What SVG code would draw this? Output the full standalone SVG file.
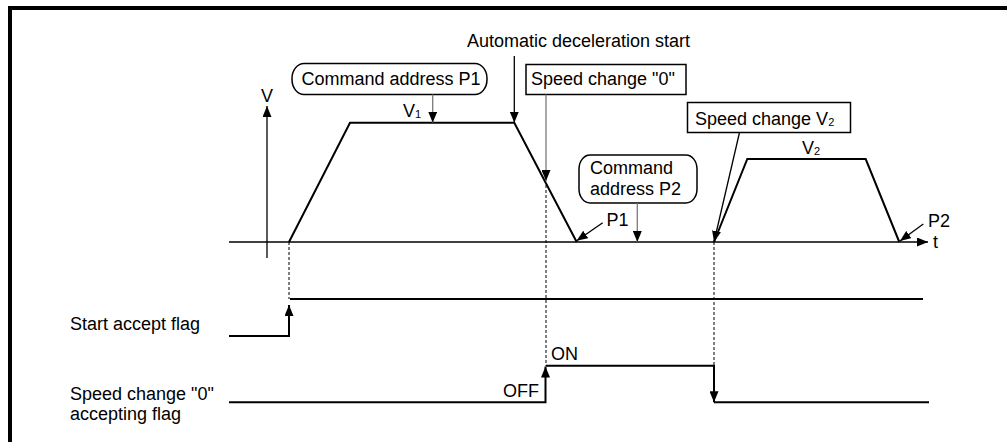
<svg xmlns="http://www.w3.org/2000/svg" width="1007" height="442" viewBox="0 0 1007 442">
<style>
text{font-family:"Liberation Sans",Arial,sans-serif;font-size:18px;fill:#000}
.sub{font-size:11px}
.thick{fill:none;stroke:#000;stroke-width:2}
.thin{fill:none;stroke:#000;stroke-width:1.3}
.gray{fill:none;stroke:#7a7a7a;stroke-width:1.3}
.dash{fill:none;stroke:#000;stroke-width:1;stroke-dasharray:3,2}
.box{fill:#fff;stroke:#000;stroke-width:1.5}
</style>
<defs>
<marker id="ah" viewBox="0 0 11 9" refX="11" refY="4.5" markerWidth="11" markerHeight="9" markerUnits="userSpaceOnUse" orient="auto"><path d="M0,0 L11,4.5 L0,9 z" fill="#000"/></marker>
</defs>
<path d="M10,442 V8 H1007" fill="none" stroke="#000" stroke-width="4"/>

<g id="axes">
<path class="thin" d="M229,242 H928" marker-end="url(#ah)"/>
<path class="thin" d="M267,258 V106" marker-end="url(#ah)"/>
<text x="267" y="102" text-anchor="middle">V</text>
<text x="933" y="248">t</text>
</g>

<g id="profile">
<path class="thick" d="M289,242 L350,122.7 H514.3 L576.7,242"/>
<path class="thick" d="M714,242 L747.3,159 H865.7 L899.3,242"/>
<text x="403" y="117">V<tspan class="sub" dy="1">1</tspan></text>
<text x="802" y="154">V<tspan class="sub" dy="1">2</tspan></text>
</g>

<g id="auto-decel">
<text x="467" y="46.5">Automatic deceleration start</text>
</g>

<g id="cmd-p1">
<rect class="box" x="292" y="63.5" width="195" height="31" rx="12" ry="15"/>
<text x="301.5" y="85">Command address P1</text>
</g>

<g id="speed0">
<rect class="box" x="526" y="64.5" width="160" height="30"/>
<text x="531" y="84.5">Speed change "0"</text>
</g>

<g id="cmd-p2">
<rect class="box" x="579" y="155" width="118" height="48" rx="11" ry="14"/>
<text x="590" y="173.5">Command</text>
<text x="590" y="194.5">address P2</text>
</g>

<g id="speedv2">
<rect class="box" x="687.5" y="102.5" width="163" height="30"/>
<text x="695" y="124.5">Speed change V<tspan class="sub" dy="1">2</tspan></text>
</g>

<g id="labels">
<text x="606.5" y="226">P1</text>
<text x="928" y="227">P2</text>
<text x="70" y="330">Start accept flag</text>
<text x="70" y="400">Speed change "0"</text>
<text x="70" y="420">accepting flag</text>
<text x="551" y="360">ON</text>
<text x="503" y="396.5">OFF</text>
</g>

<g id="connectors">
<path class="thin" d="M514.3,56 V122.7" marker-end="url(#ah)"/>
<path class="gray" d="M432.7,94.5 V122.7" marker-end="url(#ah)"/>
<path class="gray" d="M546,94.5 V181" marker-end="url(#ah)"/>
<path class="gray" d="M637.3,203 V242" marker-end="url(#ah)"/>
<path class="thin" d="M739.5,132.5 L714,242" marker-end="url(#ah)"/>
<path class="thin" d="M602.7,222.7 L576.7,240.7" marker-end="url(#ah)"/>
<path class="thin" d="M923.3,224 L900,241" marker-end="url(#ah)"/>
<path class="dash" d="M289,242 V299"/>
<path class="dash" d="M546,185 V366"/>
<path class="dash" d="M714,242 V366"/>
</g>

<g id="start-flag">
<path class="thick" d="M229,336 H289 V305" marker-end="url(#ah)"/>
<path class="thick" d="M290,299 H923"/>
</g>

<g id="speed0-flag">
<path class="thick" d="M229,402.3 H545.5 V366.5" marker-end="url(#ah)"/>
<path class="thick" d="M546,365.7 H714 V402.3" marker-end="url(#ah)"/>
<path class="thick" d="M714,402.3 H929"/>
</g>
</svg>
